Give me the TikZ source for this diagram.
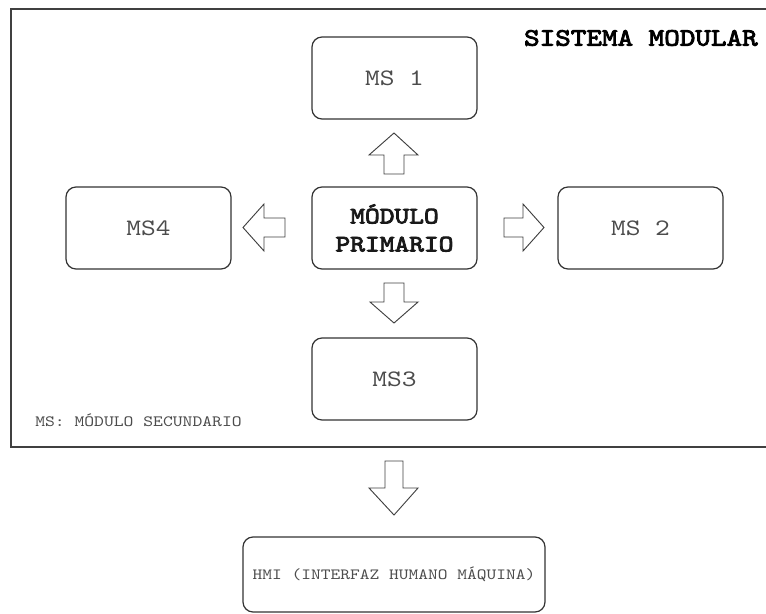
\documentclass[tikz,border=0pt]{standalone}
\usepackage{fontspec}
% typewriter face widened to Courier proportions (0.6 em per character)
\newfontfamily\typewriter{lmmono10-regular.otf}[FakeStretch=1.19]
\newfontfamily\typewriterbold{lmmono10-regular.otf}[FakeStretch=1.19, FakeBold=3.5]
\begin{document}
\begin{tikzpicture}[x=0.75pt,y=-0.75pt,
  every node/.style={font=\typewriter},
  module/.style={draw=black!80, line width=0.9pt, rounded corners=7.5pt,
    minimum width=123.75pt, minimum height=61.5pt, inner sep=0pt,
    text=black!70, font=\typewriter\fontsize{17.7}{22}\selectfont, align=center},
  mainmodule/.style={module, text=black!90,
    font=\typewriterbold\fontsize{17.7}{22}\selectfont},
  note/.style={text=black!70, font=\typewriter\fontsize{11.8}{15}\selectfont, inner sep=0pt},
  blockarrow/.style={draw=black!75, line width=0.7pt, fill=white, line join=miter}
]
\useasboundingbox (0,0) rectangle (766,613);

% frame of the modular system
\draw[draw=black!75, line width=1.3pt] (11,9) rectangle (780,447);
\node[anchor=east, inner sep=0pt, text=black,
  font=\typewriterbold\fontsize{18.7}{23}\selectfont] (title) at (758,38) {SISTEMA MODULAR};

% modules
\node[module] (ms1) at (394.5,78) {\raisebox{-1pt}{MS 1}};
\node[mainmodule] (prim) at (394.5,228) {MÓDULO\\[-1pt]PRIMARIO};
\node[module] (ms4) at (148.5,228) {\raisebox{-1pt}{MS4}};
\node[module] (ms2) at (640.5,228) {\raisebox{-1pt}{MS 2}};
\node[module] (ms3) at (394.5,379) {\raisebox{-1pt}{MS3}};
\node[note, anchor=west] (legend) at (35,420) {MS: MÓDULO SECUNDARIO};

% human-machine interface
\node[module, minimum width=226.5pt, minimum height=56.25pt,
  font=\typewriter\fontsize{11.7}{15}\selectfont] (hmi) at (394,574.5) {\raisebox{-1.5pt}{HMI (INTERFAZ HUMANO MÁQUINA)}};

% block arrows
% up: primary -> MS 1
\draw[blockarrow] (394,133) -- (418,155) -- (404,155) -- (404,174) -- (384,174)
  -- (384,155) -- (369,155) -- cycle;
% down: primary -> MS3
\draw[blockarrow] (394,323) -- (418,302) -- (404,302) -- (404,283) -- (384,283)
  -- (384,302) -- (370,302) -- cycle;
% left: primary -> MS4
\draw[blockarrow] (243,227.5) -- (264,204) -- (264,218) -- (285,218) -- (285,237)
  -- (264,237) -- (264,251) -- cycle;
% right: primary -> MS 2
\draw[blockarrow] (544,227.5) -- (523,204) -- (523,218) -- (504,218) -- (504,237)
  -- (523,237) -- (523,251) -- cycle;
% down: system -> HMI
\draw[blockarrow] (394,515) -- (418,488) -- (403,488) -- (403,461) -- (385,461)
  -- (385,488) -- (369,488) -- cycle;
\end{tikzpicture}
\end{document}
